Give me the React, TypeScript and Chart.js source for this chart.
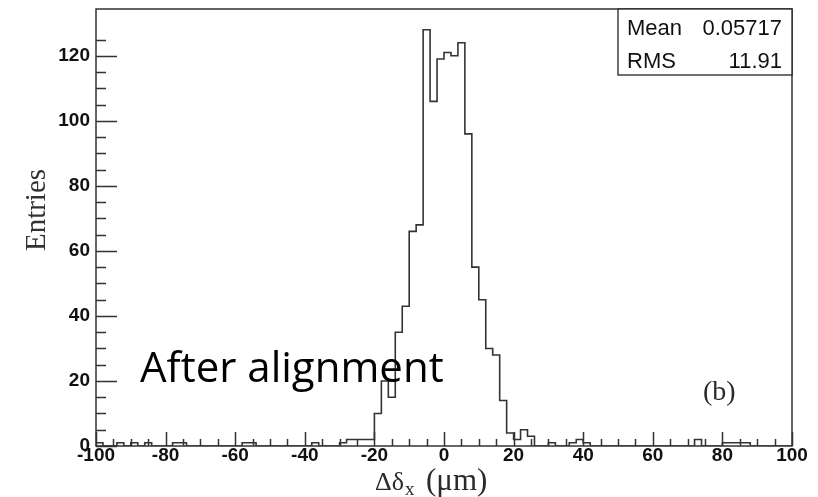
import React, { useEffect, useRef } from 'react';
import { Chart, registerables } from 'chart.js';

Chart.register(...registerables);

// ---- data ----
const binStart = -100;
const binWidth = 2;
// 100 bins of width 2 from -100 to 100
const counts = [
  1, 0, 0, 1, 0, 1, 0, 1, 0, 0,
  0, 1, 1, 0, 0, 0, 0, 0, 0, 0,
  0, 1, 1, 0, 0, 0, 0, 0, 0, 0,
  0, 1, 0, 0, 0, 1, 2, 2, 2, 2,
  10, 20, 15, 35, 43, 66, 68, 128, 106, 119,
  121, 120, 124, 96, 55, 45, 30, 28, 14, 4,
  2, 5, 3, 0, 0, 1, 0, 0, 1, 2,
  1, 0, 0, 0, 0, 0, 0, 0, 0, 0,
  0, 0, 0, 0, 0, 0, 2, 0, 0, 0,
  1, 1, 1, 1, 0, 0, 0, 0, 0, 0,
];
const xMajorTicks = [-100, -80, -60, -40, -20, 0, 20, 40, 60, 80, 100];
const yMajorTicks = [0, 20, 40, 60, 80, 100, 120];
const xMin = -100;
const xMax = 100;
const yMin = 0;
const yMax = 134.4;
const statsLabels = ['Mean', 'RMS'];
const statsValues = ['0.05717', '11.91'];
const xTitleMain = 'Δδ';
const xTitleSub = 'x';
const xTitleUnit = '(μm)';
const yTitle = 'Entries';
const annotation = 'After alignment';
const panelLabel = '(b)';

const SANS = "'Liberation Sans', Arial, sans-serif";
const SERIF = "'Liberation Serif', 'Times New Roman', serif";
const LINE = '#333333';

const decor = {
  id: 'rootDecor',
  afterDraw(chart: any) {
    const { ctx, chartArea: a, scales } = chart;
    const xs = scales.x;
    const ys = scales.y;
    ctx.save();
    // frame
    ctx.strokeStyle = LINE;
    ctx.lineWidth = 1.5;
    ctx.strokeRect(a.left, a.top, a.right - a.left, a.bottom - a.top);
    // ticks (inward)
    ctx.beginPath();
    xs.ticks.forEach((t: any) => {
      const v = t.value;
      if (Math.abs(v / 5 - Math.round(v / 5)) > 1e-6) return;
      const major = xMajorTicks.includes(v);
      const px = Math.round(xs.getPixelForValue(v)) + 0.5;
      ctx.moveTo(px, a.bottom);
      ctx.lineTo(px, a.bottom - (major ? 14 : 7));
    });
    ys.ticks.forEach((t: any) => {
      const v = t.value;
      if (Math.abs(v / 5 - Math.round(v / 5)) > 1e-6) return;
      const major = yMajorTicks.includes(v);
      const py = Math.round(ys.getPixelForValue(v)) + 0.5;
      ctx.moveTo(a.left, py);
      ctx.lineTo(a.left + (major ? 21 : 10), py);
    });
    ctx.stroke();

    // stats box
    const bx = 618;
    const by = a.top;
    const bw = a.right - bx;
    const bh = 66;
    ctx.fillStyle = '#ffffff';
    ctx.fillRect(bx, by, bw, bh);
    ctx.strokeStyle = '#222';
    ctx.lineWidth = 1.3;
    ctx.strokeRect(bx, by, bw, bh);
    ctx.fillStyle = '#111';
    ctx.font = `22px ${SANS}`;
    ctx.textBaseline = 'alphabetic';
    statsLabels.forEach((lab, i) => {
      const y = by + 26 + i * 33;
      ctx.textAlign = 'left';
      ctx.fillText(lab, bx + 9, y);
      ctx.textAlign = 'right';
      ctx.fillText(statsValues[i], a.right - 10, y);
    });

    // annotation
    ctx.textAlign = 'left';
    ctx.fillStyle = '#000';
    ctx.font = `42px 'Open Sans', sans-serif`;
    ctx.fillText(annotation, 140, 382);

    // panel label
    ctx.fillStyle = '#2a2a2a';
    ctx.font = `28px ${SERIF}`;
    ctx.fillText(panelLabel, 703, 400);

    // x title
    ctx.fillStyle = '#2a2a2a';
    let x = 375;
    const y0 = 490;
    ctx.font = `26px ${SERIF}`;
    ctx.fillText(xTitleMain, x, y0);
    x += ctx.measureText(xTitleMain).width;
    ctx.font = `19px ${SERIF}`;
    ctx.fillText(xTitleSub, x + 1, y0 + 5);
    ctx.font = `31px ${SERIF}`;
    ctx.fillText(xTitleUnit, 426, y0);

    // y title
    ctx.save();
    ctx.translate(37, 210);
    ctx.rotate(-Math.PI / 2);
    ctx.textAlign = 'center';
    ctx.textBaseline = 'middle';
    ctx.font = `29px ${SERIF}`;
    ctx.fillStyle = '#333';
    ctx.fillText(yTitle, 0, 0);
    ctx.restore();

    ctx.restore();
  },
};

export default function App() {
  const ref = useRef<HTMLCanvasElement>(null);
  useEffect(() => {
    const canvas = ref.current as HTMLCanvasElement;
    const points: { x: number; y: number }[] = [];
    for (let i = 0; i < counts.length; i++) {
      points.push({ x: binStart + i * binWidth, y: counts[i] });
    }
    points.push({ x: binStart + counts.length * binWidth, y: counts[counts.length - 1] });

    const tickFont = { family: SANS, size: 19, weight: 'bold' as const };
    const chart = new Chart(canvas, {
      type: 'line',
      data: {
        datasets: [
          {
            data: points,
            stepped: 'before',
            borderColor: LINE,
            borderWidth: 1.6,
            pointRadius: 0,
            fill: false,
          } as any,
        ],
      },
      options: {
        responsive: false,
        animation: false,
        devicePixelRatio: 1,
        layout: { padding: { top: 9, right: 26, left: 0, bottom: 0 } },
        plugins: { legend: { display: false }, tooltip: { enabled: false } },
        scales: {
          x: {
            type: 'linear',
            min: xMin,
            max: xMax,
            grid: { display: false, drawTicks: false },
            border: { display: false },
            ticks: {
              stepSize: 5,
              autoSkip: false,
              maxRotation: 0,
              padding: -2,
              font: tickFont,
              color: '#111',
              callback: (v: any) => (xMajorTicks.includes(Number(v)) ? String(v) : ''),
            },
            afterFit: (s: any) => {
              s.height = 51;
              s.paddingLeft = 0;
              s.paddingRight = 0;
            },
          },
          y: {
            type: 'linear',
            min: yMin,
            max: yMax,
            grid: { display: false, drawTicks: false },
            border: { display: false },
            ticks: {
              stepSize: 5,
              autoSkip: false,
              padding: 6,
              font: tickFont,
              color: '#111',
              callback: (v: any) => (yMajorTicks.includes(Number(v)) ? String(v) : ''),
            },
            afterFit: (s: any) => {
              s.width = 96;
              s.paddingTop = 0;
              s.paddingBottom = 0;
            },
          },
        },
      },
      plugins: [decor],
    });
    return () => chart.destroy();
  }, []);
  return (
    <div style={{ position: 'fixed', left: 0, top: 0, width: 818, height: 497, background: '#fff' }}>
      <canvas ref={ref} width={818} height={497} style={{ display: 'block' }} />
    </div>
  );
}
